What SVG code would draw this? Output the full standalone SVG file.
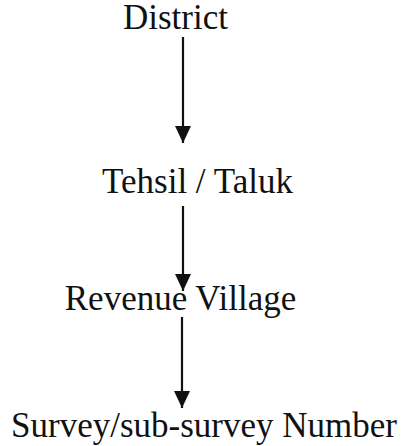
<svg xmlns="http://www.w3.org/2000/svg" width="401" height="446" viewBox="0 0 401 446">
<style>
.t{font-family:"Liberation Serif","Times New Roman",serif;font-size:35px;fill:#111;text-anchor:middle}
.c{stroke:#111;stroke-width:2.2;fill:none}
</style>
<defs>
<marker id="ah" markerUnits="userSpaceOnUse" markerWidth="18" markerHeight="16" refX="17" refY="8" orient="auto">
<path d="M0,0 L17,8 L0,16 Z" fill="#111"/>
</marker>
</defs>
<rect width="401" height="446" fill="#fff"/>
<g id="district"><text class="t" x="175.5" y="29">District</text></g>
<g id="tehsil"><text class="t" x="197.5" y="193">Tehsil / Taluk</text></g>
<g id="village"><text class="t" x="180.5" y="310">Revenue Village</text></g>
<g id="survey"><text class="t" x="204" y="437">Survey/sub-survey Number</text></g>
<g id="connectors">
<line class="c" x1="183" y1="37" x2="183" y2="143" marker-end="url(#ah)"/>
<line class="c" x1="183" y1="206" x2="183" y2="291" marker-end="url(#ah)"/>
<line class="c" x1="182" y1="317" x2="182" y2="408" marker-end="url(#ah)"/>
</g>
</svg>
